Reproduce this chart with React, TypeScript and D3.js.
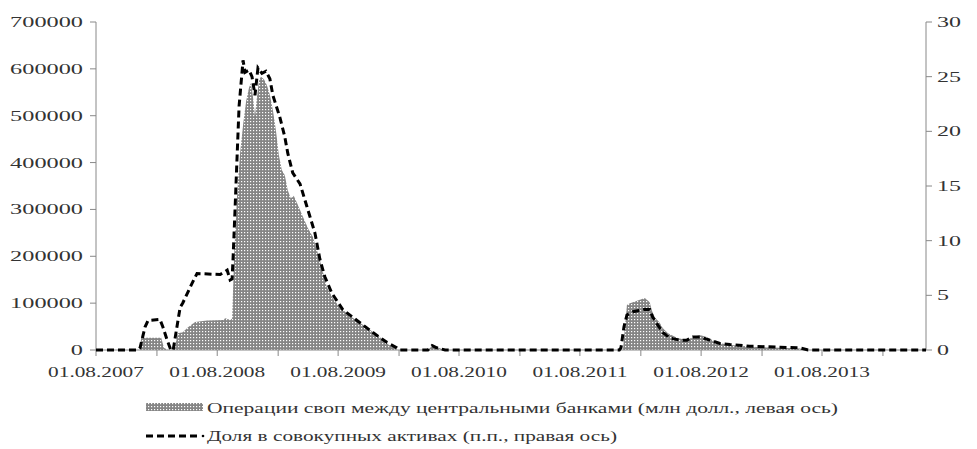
import React from 'react';
import * as d3 from 'd3';

// central bank liquidity swaps, mln USD (left axis)
const swapSeries: [string, number][] = [
  ['2007-08-01', 0], ['2007-12-13', 0], ['2007-12-15', 26000], ['2008-02-14', 26000],
  ['2008-02-22', 5000], ['2008-03-05', 0], ['2008-03-19', 0], ['2008-03-26', 6000],
  ['2008-04-04', 36000], ['2008-04-19', 38000], ['2008-05-04', 48000], ['2008-05-26', 60000],
  ['2008-07-01', 63000], ['2008-08-19', 64000], ['2008-08-25', 68000], ['2008-09-10', 64000],
  ['2008-09-15', 67000], ['2008-09-21', 200000], ['2008-09-30', 330000], ['2008-10-09', 420000],
  ['2008-10-18', 480000], ['2008-10-27', 530000], ['2008-11-05', 560000], ['2008-11-11', 570000],
  ['2008-11-17', 540000], ['2008-11-23', 500000], ['2008-11-29', 540000], ['2008-12-05', 575000],
  ['2008-12-11', 583000], ['2008-12-20', 578000], ['2008-12-29', 565000], ['2009-01-07', 544000],
  ['2009-01-16', 512000], ['2009-01-25', 470000], ['2009-02-03', 416000], ['2009-02-12', 384000],
  ['2009-02-21', 373000], ['2009-03-02', 341000], ['2009-03-11', 324000], ['2009-03-20', 329000],
  ['2009-04-02', 309000], ['2009-04-17', 284000], ['2009-05-02', 260000], ['2009-05-17', 241000],
  ['2009-06-07', 192000], ['2009-06-28', 134000], ['2009-07-19', 107000], ['2009-08-06', 92000],
  ['2009-09-05', 73000], ['2009-10-06', 58000], ['2009-11-05', 43000], ['2009-12-05', 28000],
  ['2009-12-29', 13000], ['2010-01-13', 6000], ['2010-01-27', 0], ['2010-04-29', 0],
  ['2010-05-12', 9000], ['2010-05-26', 6000], ['2010-06-20', 0], ['2011-12-09', 0],
  ['2011-12-21', 96000], ['2011-12-30', 100000], ['2012-01-08', 102000], ['2012-01-29', 107000],
  ['2012-02-13', 111000], ['2012-02-28', 102000], ['2012-03-05', 85000], ['2012-03-14', 70000],
  ['2012-03-29', 58000], ['2012-04-07', 47000], ['2012-04-23', 36000], ['2012-05-20', 26000],
  ['2012-06-19', 21000], ['2012-07-07', 28000], ['2012-07-28', 32000], ['2012-08-18', 28000],
  ['2012-09-05', 21000], ['2012-09-27', 15000], ['2012-10-21', 11000], ['2012-11-26', 9000],
  ['2013-01-25', 6000], ['2013-03-27', 5000], ['2013-05-26', 3000], ['2013-06-14', 0],
  ['2014-06-11', 0],
];

// share in total assets, p.p. (right axis)
const shareSeries: [string, number][] = [
  ['2007-08-01', 0], ['2007-12-06', 0], ['2007-12-12', 0.2], ['2007-12-27', 2.1],
  ['2008-01-05', 2.7], ['2008-02-10', 2.8], ['2008-02-19', 2.1], ['2008-03-03', 0.9],
  ['2008-03-14', 0], ['2008-03-21', 0], ['2008-04-11', 3.9], ['2008-04-19', 4.3],
  ['2008-05-17', 6.1], ['2008-06-01', 7.0], ['2008-08-10', 6.9], ['2008-08-31', 7.3],
  ['2008-09-09', 6.4], ['2008-09-15', 6.5], ['2008-09-18', 8.5], ['2008-09-24', 13],
  ['2008-09-30', 17.7], ['2008-10-06', 22.3], ['2008-10-18', 26.5], ['2008-10-24', 25.4],
  ['2008-11-05', 25.6], ['2008-11-14', 25.0], ['2008-11-23', 23.3], ['2008-12-02', 25.8],
  ['2008-12-14', 25.3], ['2008-12-26', 25.5], ['2009-01-07', 24.8], ['2009-01-16', 23.3],
  ['2009-02-06', 21.3], ['2009-02-21', 19.5], ['2009-03-02', 18.0], ['2009-03-17', 16.2],
  ['2009-04-08', 15.2], ['2009-04-29', 13.1], ['2009-05-23', 10.7], ['2009-06-07', 8.3],
  ['2009-06-22', 6.7], ['2009-07-13', 5.2], ['2009-08-15', 3.7], ['2009-09-27', 2.7],
  ['2009-11-14', 1.6], ['2009-12-26', 0.7], ['2010-01-25', 0.2], ['2010-02-03', 0],
  ['2010-04-29', 0], ['2010-05-12', 0.4], ['2010-05-26', 0.2], ['2010-06-20', 0],
  ['2011-11-28', 0], ['2011-12-03', 0.2], ['2011-12-12', 2.1], ['2011-12-21', 3.2],
  ['2012-01-08', 3.5], ['2012-02-10', 3.7], ['2012-02-28', 3.7], ['2012-03-08', 3.0],
  ['2012-03-23', 2.3], ['2012-04-07', 1.6], ['2012-04-29', 1.1], ['2012-05-29', 0.9],
  ['2012-06-19', 0.9], ['2012-07-07', 1.2], ['2012-07-28', 1.2], ['2012-08-27', 0.9],
  ['2012-09-27', 0.6], ['2012-10-27', 0.5], ['2012-12-26', 0.35], ['2013-03-27', 0.25],
  ['2013-05-26', 0.2], ['2013-06-20', 0], ['2014-06-11', 0],
];

const leftTicks = [0, 100000, 200000, 300000, 400000, 500000, 600000, 700000];
const rightTicks = [0, 5, 10, 15, 20, 25, 30];
const labelDates = ['2007-08-01', '2008-08-01', '2009-08-01', '2010-08-01', '2011-08-01', '2012-08-01', '2013-08-01'];
const legendLabels = [
  'Операции своп между центральными банками (млн долл., левая ось)',
  'Доля в совокупных активах  (п.п., правая ось)',
];

const W = 977;
const H = 449;
const FONT = '"Liberation Serif", Tinos, "DejaVu Serif", "Times New Roman", serif';
const TXT = '#333';
const AXIS = '#888';

export default function App() {
  const parse = d3.timeParse('%Y-%m-%d');
  const fmt = d3.timeFormat('%d.%m.%Y');

  const x = d3.scaleTime()
    .domain([parse('2007-08-01')!, parse('2014-06-11')!])
    .range([96, 926]);
  const yL = d3.scaleLinear().domain([0, 700000]).range([350, 22]);
  const yR = d3.scaleLinear().domain([0, 30]).range([350, 22]);

  const swaps = swapSeries.map(([d, v]) => [parse(d)!, v] as [Date, number]);
  const share = shareSeries.map(([d, v]) => [parse(d)!, v] as [Date, number]);

  const area = d3.area<[Date, number]>()
    .x(d => x(d[0]))
    .y0(yL(0))
    .y1(d => yL(d[1]));
  const line = d3.line<[Date, number]>()
    .x(d => x(d[0]))
    .y(d => yR(d[1]));

  // minor ticks every 6 months, starting at the domain start
  const halfYears = d3.timeMonth.range(parse('2007-08-01')!, parse('2014-03-01')!, 6);

  return (
    <div style={{ position: 'absolute', left: 0, top: 0 }}>
      <svg width={W} height={H} style={{ display: 'block', background: '#fff' }}>
        <defs>
          <pattern id="dots" width="3" height="3" patternUnits="userSpaceOnUse">
            <rect width="3" height="3" fill="#858585" />
            <rect x="1" y="1" width="1.2" height="1.2" fill="#fff" />
          </pattern>
        </defs>

        <path d={area(swaps)!} fill="url(#dots)" />

        {/* left axis */}
        <line x1={96} x2={96} y1={22} y2={350} stroke={AXIS} />
        {leftTicks.map(t => (
          <g key={'l' + t}>
            <line x1={90} x2={96} y1={yL(t)} y2={yL(t)} stroke={AXIS} />
            <text transform={`translate(83,${yL(t) + 5}) scale(1.62,1)`} textAnchor="end"
              fontFamily={FONT} fontSize={15} fill={TXT}>{t}</text>
          </g>
        ))}

        {/* right axis */}
        <line x1={926} x2={926} y1={22} y2={350} stroke={AXIS} />
        {rightTicks.map(t => (
          <g key={'r' + t}>
            <line x1={926} x2={932} y1={yR(t)} y2={yR(t)} stroke={AXIS} />
            <text transform={`translate(937,${yR(t) + 5}) scale(1.6,1)`} textAnchor="start"
              fontFamily={FONT} fontSize={15} fill={TXT}>{t}</text>
          </g>
        ))}

        {/* x axis */}
        <line x1={96} x2={926} y1={350} y2={350} stroke={AXIS} />
        {halfYears.map(d => (
          <line key={+d} x1={x(d)} x2={x(d)} y1={350} y2={356} stroke={AXIS} />
        ))}
        {labelDates.map(s => (
          <text key={s} transform={`translate(${x(parse(s)!)},377) scale(1.42,1)`} textAnchor="middle"
            fontFamily={FONT} fontSize={15} fill={TXT}>{fmt(parse(s)!)}</text>
        ))}

        <path d={line(share)!} fill="none" stroke="#000" strokeWidth={3}
          strokeDasharray="7,4" />

        {/* legend */}
        <rect x={146} y={403} width={57} height={8} fill="url(#dots)" />
        <text x={207} y={413} fontFamily={FONT} fontSize={15} fill={TXT}
          textLength={631} lengthAdjust="spacingAndGlyphs">{legendLabels[0]}</text>
        <line x1={146} x2={200} y1={436} y2={436} stroke="#000" strokeWidth={3} strokeDasharray="7,4" />
        <circle cx={203} cy={436} r={1.3} fill="#000" />
        <text x={207} y={441} fontFamily={FONT} fontSize={15} fill={TXT}
          textLength={410} lengthAdjust="spacingAndGlyphs">{legendLabels[1]}</text>
      </svg>
    </div>
  );
}
